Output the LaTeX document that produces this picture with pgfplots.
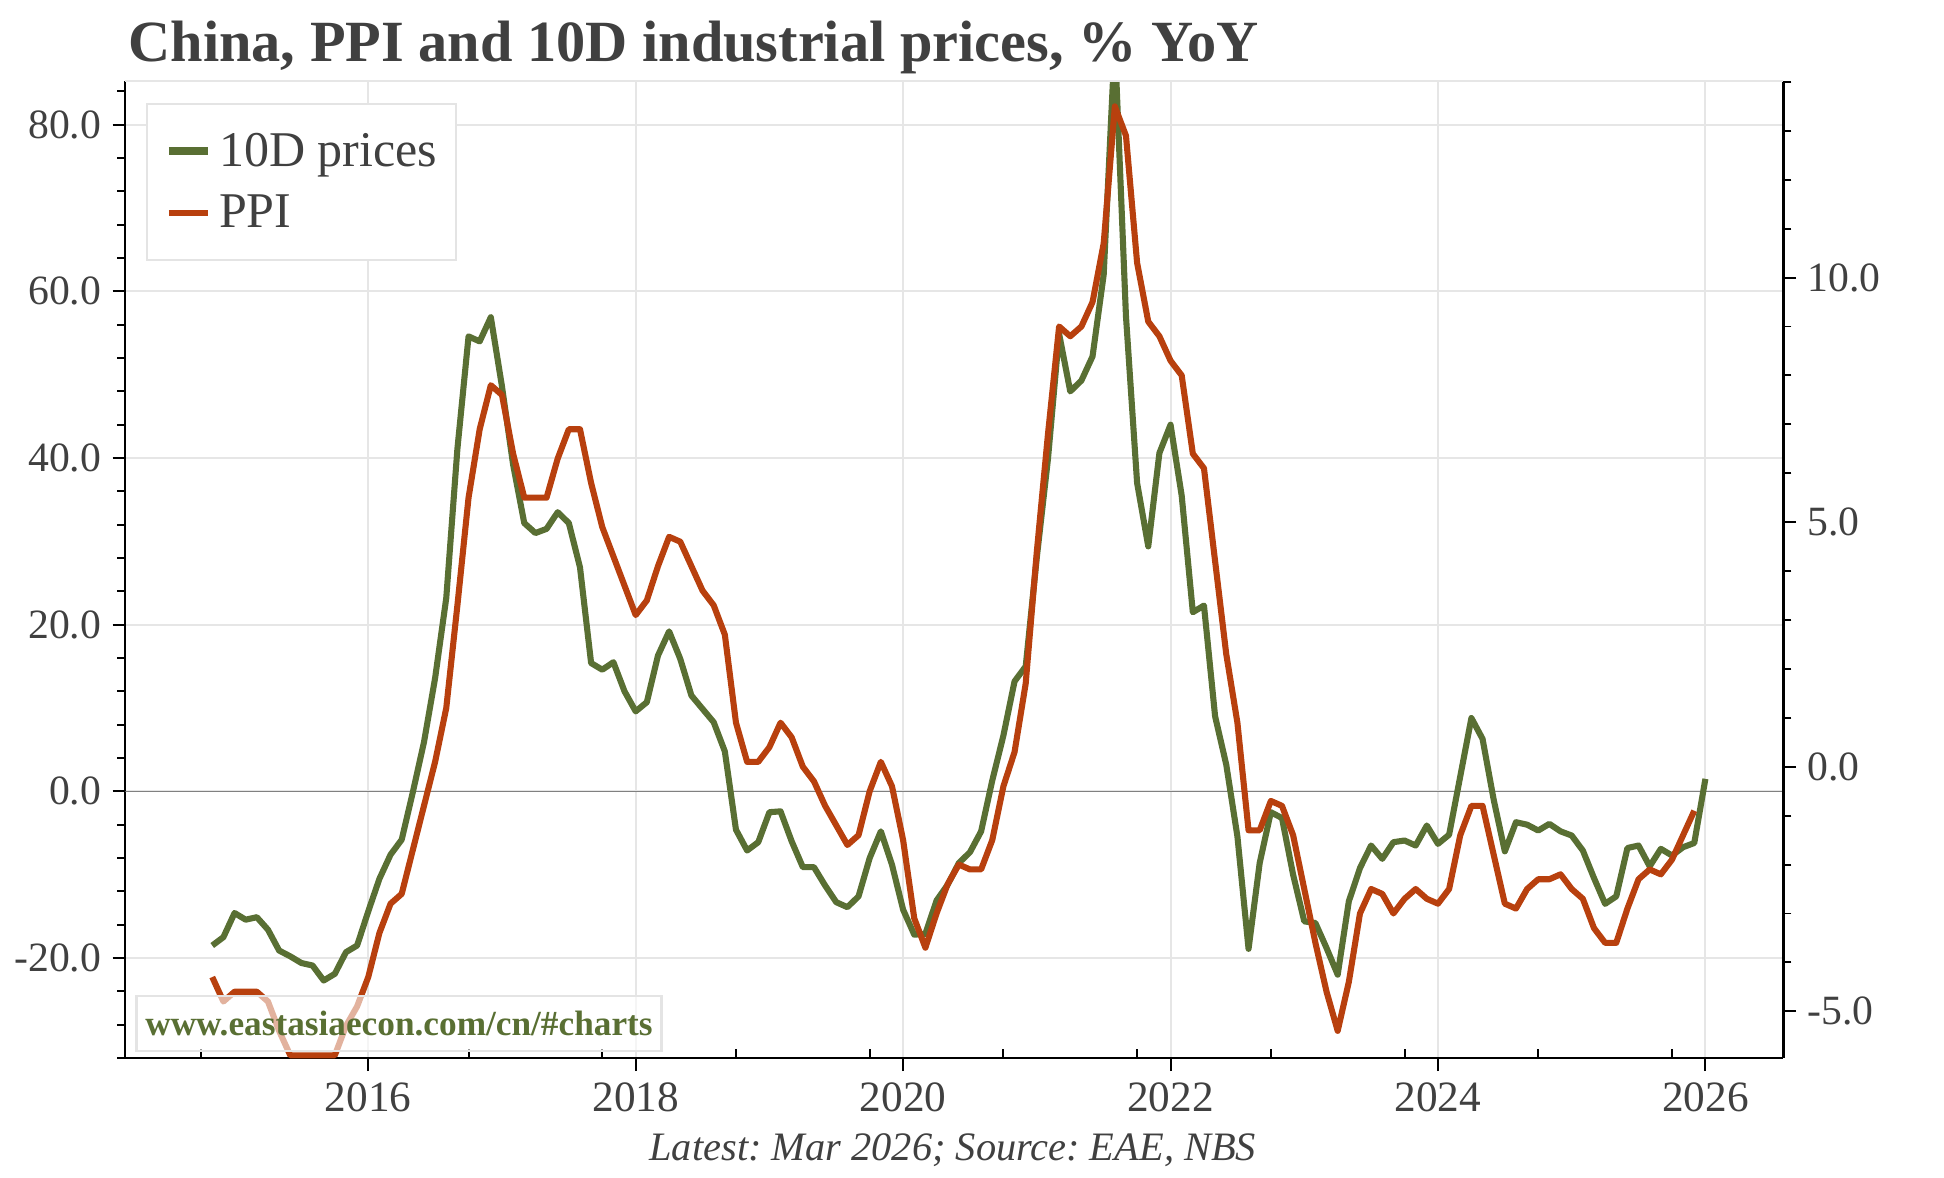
\documentclass[border=0pt]{standalone}
\usepackage{fontspec}
\setmainfont{Liberation Serif}
\usepackage{pgfplots}
\usepackage{pgfplotstable}
\pgfplotsset{compat=1.18}

\definecolor{tendgreen}{HTML}{596F33}
\definecolor{ppired}{HTML}{B8400E}
\definecolor{txtgrey}{HTML}{404040}
\definecolor{gridgrey}{HTML}{E6E6E6}
\definecolor{zerogrey}{HTML}{808080}
\definecolor{boxgrey}{HTML}{E4E4E4}

% m = months since Oct 2014 on the chart's own date axis
\pgfplotstableread{
m tend
1 -18.5
2 -17.5
3 -14.6
4 -15.4
5 -15.1
6 -16.6
7 -19.1
8 -19.8
9 -20.6
10 -20.9
11 -22.7
12 -21.9
13 -19.3
14 -18.5
15 -14.4
16 -10.5
17 -7.6
18 -5.8
19 -0.1
20 5.9
21 13.6
22 23.2
23 41.1
24 54.6
25 54.0
26 56.9
27 48.6
28 39.2
29 32.2
30 31.0
31 31.5
32 33.5
33 32.2
34 26.9
35 15.4
36 14.6
37 15.5
38 12.0
39 9.6
40 10.7
41 16.3
42 19.2
43 15.9
44 11.5
45 9.9
46 8.3
47 4.8
48 -4.6
49 -7.1
50 -6.1
51 -2.5
52 -2.4
53 -6.0
54 -9.1
55 -9.1
56 -11.3
57 -13.3
58 -13.9
59 -12.6
60 -8.0
61 -4.8
62 -8.8
63 -14.2
64 -17.2
65 -17.1
66 -13.1
67 -11.2
68 -8.6
69 -7.3
70 -4.8
71 1.3
72 6.7
73 13.2
74 15.0
75 28.1
76 39.9
77 54.9
78 48.0
79 49.3
80 52.2
81 62.0
82 90.0
83 57.0
84 37.0
85 29.4
86 40.6
87 44.0
88 35.5
89 21.5
90 22.3
91 9.0
92 3.2
93 -5.4
94 -18.9
95 -8.6
96 -2.5
97 -3.2
98 -10.0
99 -15.6
100 -15.8
101 -18.8
102 -22.0
103 -13.2
104 -9.2
105 -6.5
106 -8.1
107 -6.1
108 -5.9
109 -6.5
110 -4.1
111 -6.3
112 -5.2
113 1.8
114 8.8
115 6.3
116 -1.0
117 -7.2
118 -3.7
119 -4.0
120 -4.7
121 -3.9
122 -4.8
123 -5.3
124 -7.1
125 -10.4
126 -13.5
127 -12.6
128 -6.8
129 -6.5
130 -9.0
131 -6.9
132 -7.7
133 -6.7
134 -6.2
135 1.5
}\tendtable

\pgfplotstableread{
m ppi
1 -4.3
2 -4.8
3 -4.6
4 -4.6
5 -4.6
6 -4.8
7 -5.4
8 -5.9
9 -5.9
10 -5.9
11 -5.9
12 -5.9
13 -5.3
14 -4.9
15 -4.3
16 -3.4
17 -2.8
18 -2.6
19 -1.7
20 -0.8
21 0.1
22 1.2
23 3.3
24 5.5
25 6.9
26 7.8
27 7.6
28 6.4
29 5.5
30 5.5
31 5.5
32 6.3
33 6.9
34 6.9
35 5.8
36 4.9
37 4.3
38 3.7
39 3.1
40 3.4
41 4.1
42 4.7
43 4.6
44 4.1
45 3.6
46 3.3
47 2.7
48 0.9
49 0.1
50 0.1
51 0.4
52 0.9
53 0.6
54 0.0
55 -0.3
56 -0.8
57 -1.2
58 -1.6
59 -1.4
60 -0.5
61 0.1
62 -0.4
63 -1.5
64 -3.1
65 -3.7
66 -3.0
67 -2.4
68 -2.0
69 -2.1
70 -2.1
71 -1.5
72 -0.4
73 0.3
74 1.7
75 4.4
76 6.8
77 9.0
78 8.8
79 9.0
80 9.5
81 10.7
82 13.5
83 12.9
84 10.3
85 9.1
86 8.8
87 8.3
88 8.0
89 6.4
90 6.1
91 4.2
92 2.3
93 0.9
94 -1.3
95 -1.3
96 -0.7
97 -0.8
98 -1.4
99 -2.5
100 -3.6
101 -4.6
102 -5.4
103 -4.4
104 -3.0
105 -2.5
106 -2.6
107 -3.0
108 -2.7
109 -2.5
110 -2.7
111 -2.8
112 -2.5
113 -1.4
114 -0.8
115 -0.8
116 -1.8
117 -2.8
118 -2.9
119 -2.5
120 -2.3
121 -2.3
122 -2.2
123 -2.5
124 -2.7
125 -3.3
126 -3.6
127 -3.6
128 -2.9
129 -2.3
130 -2.1
131 -2.2
132 -1.9
133 -1.4
134 -0.9
}\ppitable

\begin{document}
\frenchspacing
\begin{tikzpicture}
\pgfplotsset{
  chart/.style={
    scale only axis, width=517.2pt, height=304.7pt,
    xmin=-6.8, xmax=142,
    tick style={black, line width=0.6pt},
    major tick length=4pt, minor tick length=2.5pt,
    tick align=outside,
    axis line style={-, black, line width=0.7pt},
    /pgf/number format/assume math mode=true,
    ticklabel style={font=\fontsize{13}{15}\selectfont, text=txtgrey},
    y tick label style={/pgf/number format/.cd, fixed, fixed zerofill, precision=1},
  }
}
\begin{axis}[chart, name=ax,
  axis x line*=bottom, axis y line*=left,
  ymin=-32.03, ymax=85.2,
  xtick={15,39,63,87,111,135},
  xticklabels={2016,2018,2020,2022,2024,2026},
  x tick label style={font=\fontsize{13.5}{15}\selectfont},
  extra x ticks={0,12,24,36,48,60,72,84,96,108,120,132},
  extra x tick labels={},
  extra x tick style={xtick align=inside, major tick length=2.8pt, grid=none},
  ytick={-20,0,20,40,60,80},
  minor ytick={-32,-28,-24,-16,-12,-8,-4,4,8,12,16,24,28,32,36,44,48,52,56,64,68,72,76,84},
  xmajorgrids, ymajorgrids,
  major grid style={gridgrey, line width=0.6pt},
]
\draw[zerogrey, line width=0.5pt] (axis cs:-6.8,0) -- (axis cs:142,0);
\addplot[tendgreen, line width=1.9pt, line join=round] table[x=m, y=tend] {\tendtable};
\end{axis}

\begin{axis}[chart,
  axis x line=none, axis y line*=right,
  ymin=-5.96, ymax=14.01,
  ytick={-5,0,5,10},
  minor ytick={-6,-4,-3,-2,-1,1,2,3,4,6,7,8,9,11,12,13,14},
  legend style={at={(0.0122,0.978)}, anchor=north west,
    draw=boxgrey, line width=0.6pt, fill=white,
    inner xsep=5.8pt, inner ysep=8.5pt, row sep=6.7pt,
    font=\fontsize{15.6}{18}\selectfont, text=txtgrey,
    nodes={inner sep=0pt, text height=11pt, text depth=1.5pt}},
  legend cell align=left,
  legend image code/.code={
    \draw[#1] (0pt,0pt) -- (12.3pt,0pt);
    \path (14.4pt,0pt);
  },
]
\addlegendimage{tendgreen, line width=2.4pt}
\addlegendentry{10D prices}
\addplot[ppired, line width=1.9pt, line join=round] table[x=m, y=ppi] {\ppitable};
\addlegendentry{PPI}
\end{axis}

% light top frame line
\draw[gridgrey, line width=0.6pt] (ax.north west) -- (ax.north east);

% watermark box
\node[draw=boxgrey, line width=0.8pt, fill=white, fill opacity=0.6, text opacity=1,
  minimum width=163.7pt, minimum height=17.1pt, inner sep=0pt,
  font=\bfseries\fontsize{11}{12}\selectfont, text=tendgreen]
  at ([shift={(85.35pt,10.85pt)}]ax.south west) {www.eastasiaecon.com/cn/\#charts};

% title and source
\node[anchor=base west, font=\bfseries\fontsize{18.2}{21}\selectfont, text=txtgrey, inner sep=0pt]
  at ([shift={(0.8pt,310.8pt)}]ax.south west) {China, PPI and 10D industrial prices, \% YoY};
\node[anchor=base, font=\itshape\fontsize{12.6}{14}\selectfont, text=txtgrey, inner sep=0pt]
  at ([shift={(258.1pt,-31.8pt)}]ax.south west) {Latest: Mar 2026; Source: EAE, NBS};

\pgfresetboundingbox
\path[use as bounding box] ([shift={(-39.1pt,-37.3pt)}]ax.south west)
  rectangle ([shift={(567.3pt,330.1pt)}]ax.south west);
\end{tikzpicture}
\end{document}
